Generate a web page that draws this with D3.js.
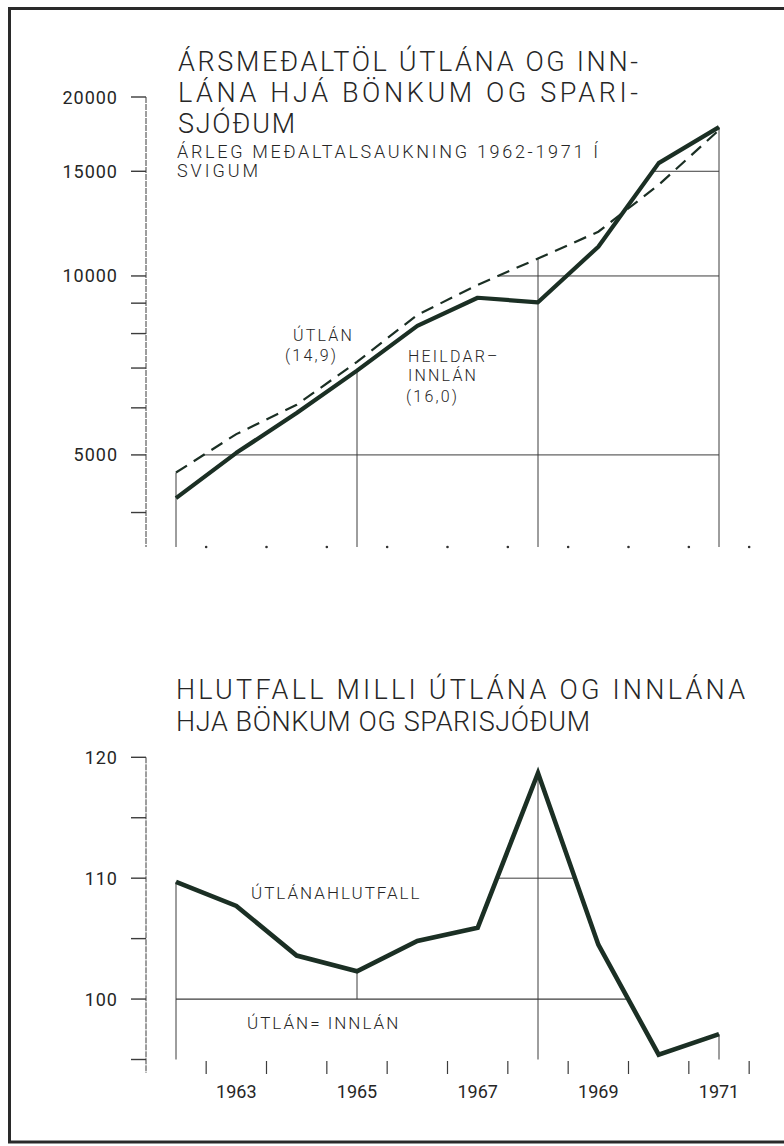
<!DOCTYPE html>
<html>
<head>
<meta charset="utf-8">
<script src="https://cdn.jsdelivr.net/npm/d3@7"></script>
<style>
	body { margin: 0; background: #fff; }
	text { font-family: Roboto, 'DejaVu Sans', sans-serif; fill: #262626; }
</style>
</head>
<body>
<div id="chart"></div>
<script>
// data
const years    = [1962, 1963, 1964, 1965, 1966, 1967, 1968, 1969, 1970, 1971];
const utlan    = [4670, 5420, 6070, 7170, 8600, 9660, 10700, 11870, 14230, 17600];   // dashed
const innlan   = [4230, 5040, 5880, 6930, 8240, 9190, 9030, 11200, 15480, 17800];    // solid
const hlutfall = [109.7, 107.7, 103.6, 102.3, 104.8, 105.9, 118.7, 104.5, 95.4, 97.1];

const topTicks      = [20000, 15000, 10000, 9000, 8000, 7000, 6000, 5000, 4000];
const topTickLabels = [20000, 15000, 10000, 5000];
const topGridLevels = [5000, 10000, 15000];
const botTicks      = [120, 115, 110, 105, 100, 95];
const botTickLabels = [120, 110, 100];
const yearLabels    = [1963, 1965, 1967, 1969, 1971];
const halfYears     = [1962.5, 1963.5, 1964.5, 1965.5, 1966.5, 1967.5, 1968.5, 1969.5, 1970.5, 1971.5];

const topTitle    = ['ÁRSMEÐALTÖL ÚTLÁNA OG INN-', 'LÁNA HJÁ BÖNKUM OG SPARI-', 'SJÓÐUM'];
const topSubtitle = ['ÁRLEG MEÐALTALSAUKNING 1962-1971 Í', 'SVIGUM'];
const botTitle    = ['HLUTFALL MILLI ÚTLÁNA OG INNLÁNA', 'HJA BÖNKUM OG SPARISJÓÐUM'];

let W = 784, H = 1146,
	ink = '#1b2f24',
	thin = '#3c3c3c';

let svg = d3.select('#chart')
	.append('svg')
	.attr('width', W)
	.attr('height', H);

// frame
svg.append('rect')
	.attr('x', 9.5).attr('y', 8.5)
	.attr('width', 820).attr('height', 1133.5)
	.attr('fill', 'none')
	.attr('stroke', '#2a2a2a')
	.attr('stroke-width', 3);

let x = d3.scaleLinear().domain([1962, 1971]).range([176, 719]);
let yTop = d3.scaleLog().domain([3500, 20000]).range([547, 97]);
let yBot = d3.scaleLinear().domain([95, 120]).range([1059.5, 757.3]);
let axisX = 146;

// ---------- titles ----------
function titleBlock(lines, x0, y0, step, size, widths, weight) {
	svg.append('g').selectAll('text')
		.data(lines)
		.join('text')
		.attr('x', x0)
		.attr('y', (d, i) => y0 + i * step)
		.attr('font-size', size)
		.attr('font-weight', weight)
		.attr('textLength', (d, i) => widths[i])
		.attr('lengthAdjust', 'spacing')
		.text(d => d);
}
titleBlock(topTitle, 178, 71, 31, 27, [460, 460, 117], 300);
titleBlock(topSubtitle, 177, 158, 19, 18, [421, 81], 300);
titleBlock(botTitle, 176, 699, 32, 27, [569, 414], 300);

// ---------- top chart ----------
let gTop = svg.append('g');

gTop.append('line')
	.attr('x1', axisX).attr('x2', axisX)
	.attr('y1', yTop(20000)).attr('y2', 547)
	.attr('stroke', thin).attr('stroke-width', 1)
	.attr('stroke-dasharray', '6,1');

gTop.selectAll('.tick')
	.data(topTicks)
	.join('line')
	.attr('x1', axisX - 15).attr('x2', axisX)
	.attr('y1', d => yTop(d)).attr('y2', d => yTop(d))
	.attr('stroke', thin).attr('stroke-width', 1.4);

gTop.selectAll('.lbl')
	.data(topTickLabels)
	.join('text')
	.attr('x', 118)
	.attr('y', d => yTop(d) + 6.5)
	.attr('text-anchor', 'end')
	.attr('font-size', 18)
	.attr('letter-spacing', 1)
	.text(d => d);

gTop.selectAll('circle')
	.data(halfYears)
	.join('circle')
	.attr('cx', d => x(d)).attr('cy', 547)
	.attr('r', 1.3)
	.attr('fill', '#333');

// crossing of a series with a level (log space), first x where it reaches it
function crossLog(vals, level) {
	for (let i = 0; i < vals.length - 1; i++) {
		if (vals[i] < level && vals[i + 1] >= level) {
			let t = Math.log(level / vals[i]) / Math.log(vals[i + 1] / vals[i]);
			return years[i] + t;
		}
	}
	return null;
}

topGridLevels.forEach(function(lv) {
	let a = crossLog(utlan, lv), b = crossLog(innlan, lv);
	let start = Math.min(a, b);
	gTop.append('line')
		.attr('x1', x(start)).attr('x2', x(1971))
		.attr('y1', yTop(lv)).attr('y2', yTop(lv))
		.attr('stroke', thin).attr('stroke-width', 1);
});

// verticals from the data point down to the base
[[0, utlan], [3, innlan], [6, utlan], [9, innlan]].forEach(function(p) {
	let i = p[0];
	gTop.append('line')
		.attr('x1', x(years[i])).attr('x2', x(years[i]))
		.attr('y1', yTop(p[1][i])).attr('y2', 547)
		.attr('stroke', thin).attr('stroke-width', 1);
});

let lineTop = d3.line()
	.x((d, i) => x(years[i]))
	.y(d => yTop(d));

gTop.append('path')
	.datum(utlan)
	.attr('fill', 'none')
	.attr('stroke', ink)
	.attr('stroke-width', 2.2)
	.attr('stroke-dasharray', '13,8')
	.attr('d', lineTop);

gTop.append('path')
	.datum(innlan)
	.attr('fill', 'none')
	.attr('stroke', ink)
	.attr('stroke-width', 4.2)
	.attr('stroke-linejoin', 'round')
	.attr('d', lineTop);

let seriesLabels = [
	{ t: 'ÚTLÁN', x: 293, y: 341 },
	{ t: '(14,9)', x: 285, y: 361 },
	{ t: 'HEILDAR–', x: 408, y: 362 },
	{ t: 'INNLÁN', x: 408, y: 381 },
	{ t: '(16,0)', x: 406, y: 402 }
];
gTop.selectAll('.sl')
	.data(seriesLabels)
	.join('text')
	.attr('x', d => d.x).attr('y', d => d.y)
	.attr('font-size', 16)
	.attr('font-weight', 300)
	.attr('letter-spacing', 2.2)
	.text(d => d.t);

// ---------- bottom chart ----------
let gBot = svg.append('g');

gBot.append('line')
	.attr('x1', axisX).attr('x2', axisX)
	.attr('y1', yBot(120)).attr('y2', 1073)
	.attr('stroke', thin).attr('stroke-width', 1)
	.attr('stroke-dasharray', '6,1');

gBot.selectAll('.tick')
	.data(botTicks)
	.join('line')
	.attr('x1', axisX - 15).attr('x2', axisX)
	.attr('y1', d => yBot(d)).attr('y2', d => yBot(d))
	.attr('stroke', thin).attr('stroke-width', 1.4);

gBot.selectAll('.lbl')
	.data(botTickLabels)
	.join('text')
	.attr('x', 118)
	.attr('y', d => yBot(d) + 6.5)
	.attr('text-anchor', 'end')
	.attr('font-size', 18)
	.attr('letter-spacing', 1)
	.text(d => d);

gBot.selectAll('.ht')
	.data(halfYears)
	.join('line')
	.attr('x1', d => x(d)).attr('x2', d => x(d))
	.attr('y1', 1061).attr('y2', 1074)
	.attr('stroke', thin).attr('stroke-width', 1.2);

gBot.selectAll('.yl')
	.data(yearLabels)
	.join('text')
	.attr('x', d => x(d))
	.attr('y', 1098)
	.attr('text-anchor', 'middle')
	.attr('font-size', 18)
	.text(d => d);

function crossLin(i, level) {
	let t = (level - hlutfall[i]) / (hlutfall[i + 1] - hlutfall[i]);
	return years[i] + t;
}

// 100 line, from 1962 to where the ratio falls below 100
gBot.append('line')
	.attr('x1', x(1962)).attr('x2', x(crossLin(7, 100)))
	.attr('y1', yBot(100)).attr('y2', yBot(100))
	.attr('stroke', thin).attr('stroke-width', 1.2);

// 110 line across the peak
gBot.append('line')
	.attr('x1', x(crossLin(5, 110))).attr('x2', x(crossLin(6, 110)))
	.attr('y1', yBot(110)).attr('y2', yBot(110))
	.attr('stroke', thin).attr('stroke-width', 1);

[[0, 95], [3, 100], [6, 95], [9, 95]].forEach(function(p) {
	let i = p[0];
	gBot.append('line')
		.attr('x1', x(years[i])).attr('x2', x(years[i]))
		.attr('y1', yBot(hlutfall[i])).attr('y2', yBot(p[1]))
		.attr('stroke', thin).attr('stroke-width', 1);
});

let lineBot = d3.line()
	.x((d, i) => x(years[i]))
	.y(d => yBot(d));

gBot.append('path')
	.datum(hlutfall)
	.attr('fill', 'none')
	.attr('stroke', ink)
	.attr('stroke-width', 4.6)
	.attr('stroke-linejoin', 'miter')
	.attr('d', lineBot);

gBot.append('text')
	.attr('x', 251).attr('y', 899)
	.attr('font-size', 17).attr('font-weight', 300)
	.attr('letter-spacing', 2)
	.text('ÚTLÁNAHLUTFALL');

gBot.append('text')
	.attr('x', 247).attr('y', 1029)
	.attr('font-size', 17).attr('font-weight', 300)
	.attr('letter-spacing', 2)
	.text('ÚTLÁN= INNLÁN');
</script>
</body>
</html>
